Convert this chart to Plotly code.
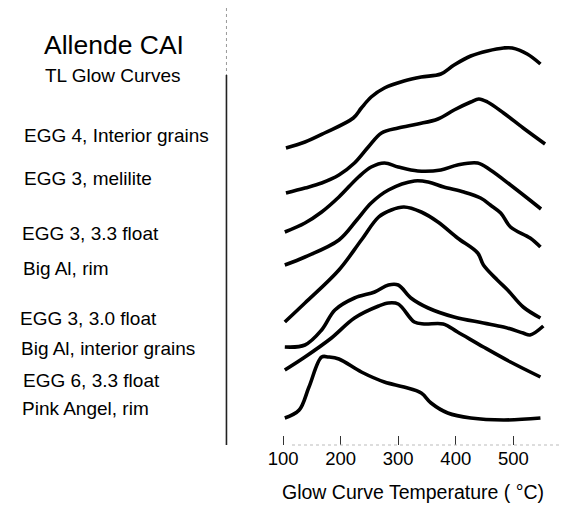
import plotly.graph_objects as go

# Temperatures (°C) and offset TL intensities (arbitrary units) for each glow curve
names = ["EGG 4, Interior grains", "EGG 3, melilite", "EGG 3, 3.3 float", "Big Al, rim",
         "EGG 3, 3.0 float", "Big Al, interior grains", "EGG 6, 3.3 float", "Pink Angel, rim"]

t1 = [105, 138, 172, 222, 236, 253, 276, 310, 340, 374, 397, 426, 455, 483, 498, 524, 547]
v1 = [297, 303, 312, 327, 337, 348, 357, 364, 368, 371, 380, 389, 394, 397, 397, 391, 381]

t2 = [105, 138, 167, 197, 224, 248, 271, 300, 334, 369, 397, 426, 440, 455, 483, 517, 555]
v2 = [252, 257, 262, 270, 282, 298, 312, 317, 321, 326, 335, 343, 346, 343, 332, 317, 301]

t3 = [103, 138, 167, 197, 231, 253, 276, 300, 334, 374, 403, 438, 460, 495, 524, 548]
v3 = [213, 222, 233, 248, 268, 278, 282, 278, 274, 275, 280, 282, 275, 260, 247, 236]

t4 = [103, 138, 197, 228, 253, 283, 328, 352, 379, 414, 443, 460, 478, 495, 529, 547]
v4 = [180, 188, 205, 225, 242, 255, 264, 263, 258, 253, 247, 240, 232, 218, 207, 198]

t5 = [103, 138, 197, 236, 266, 288, 310, 340, 369, 403, 438, 448, 472, 490, 517, 547]
v5 = [123, 142, 175, 205, 228, 235, 238, 233, 223, 207, 192, 180, 165, 155, 138, 127]

t6 = [103, 138, 167, 190, 224, 259, 283, 300, 322, 352, 397, 448, 483, 517, 529, 552]
v6 = [98, 100, 115, 135, 147, 153, 160, 160, 147, 137, 128, 122, 118, 112, 110, 119]

t7 = [103, 138, 184, 224, 266, 283, 300, 328, 345, 378, 403, 448, 495, 547]
v7 = [75, 88, 107, 127, 139, 142, 141, 123, 121, 121, 113, 98, 83, 68]

t8 = [103, 128, 145, 167, 179, 197, 236, 276, 310, 340, 357, 386, 426, 483, 547]
v8 = [27, 35, 58, 88, 88, 86, 73, 63, 58, 52, 42, 32, 27, 25, 27]

temps = [t1, t2, t3, t4, t5, t6, t7, t8]
vals = [v1, v2, v3, v4, v5, v6, v7, v8]

tick_vals = [100, 200, 300, 400, 500]
tick_text = ["100", "200", "300", "400", "500"]

# page body adds an 8px margin; figure is sized/placed to compensate
OFF = 8
W, H = 569 - OFF, 506 - OFF
FONT = "Liberation Sans, Arial, Helvetica, sans-serif"

fig = go.Figure()
for n, t, v in zip(names, temps, vals):
    fig.add_trace(go.Scatter(x=t, y=v, mode="lines", name=n,
                             line=dict(color="black", width=3.6, shape="spline", smoothing=1.0),
                             hoverinfo="x+y+name"))

def px(x):
    return (x - OFF) / W

def py(y):
    return 1 - (y - OFF) / H

label_pos = [(18, 135), (18, 178), (16, 233), (17, 268), (14, 318), (15, 348), (17, 380), (16, 408)]
ann = []
for n, (x, y) in zip(names, label_pos):
    ann.append(dict(text=n, x=px(x), y=py(y), xref="paper", yref="paper",
                    xanchor="left", yanchor="middle", showarrow=False,
                    font=dict(size=19, color="black", family=FONT)))
ann.append(dict(text="Allende CAI", x=px(111), y=py(45), xref="paper", yref="paper",
                xanchor="center", yanchor="middle", showarrow=False,
                font=dict(size=26.5, color="black", family=FONT)))
ann.append(dict(text="TL Glow Curves", x=px(110), y=py(75), xref="paper", yref="paper",
                xanchor="center", yanchor="middle", showarrow=False,
                font=dict(size=19, color="black", family=FONT)))
ann.append(dict(text="Glow Curve Temperature ( °C)", x=px(412), y=py(492), xref="paper", yref="paper",
                xanchor="center", yanchor="middle", showarrow=False,
                font=dict(size=19.5, color="black", family=FONT)))

shapes = [
    dict(type="line", xref="paper", yref="paper", x0=px(224), x1=px(224), y0=py(75), y1=py(445),
         line=dict(color="#222", width=1.6)),
    dict(type="line", xref="paper", yref="paper", x0=px(224), x1=px(224), y0=py(8), y1=py(75),
         line=dict(color="#999", width=1, dash="dot")),
    dict(type="line", xref="paper", yref="paper", x0=px(290), x1=px(569), y0=py(445), y1=py(445),
         line=dict(color="#bbb", width=1, dash="dot")),
]

fig.update_layout(
    width=W, height=H,
    margin=dict(l=0, r=0, t=0, b=0),
    paper_bgcolor="white", plot_bgcolor="white",
    showlegend=False,
    annotations=ann,
    shapes=shapes,
    xaxis=dict(domain=[px(270), 1], range=[81.0, 596.6], tickvals=tick_vals, ticktext=tick_text,
               ticks="inside", ticklen=9, tickwidth=1, tickcolor="#333",
               showline=False, showgrid=False, zeroline=False,
               tickfont=dict(size=18.5, color="black", family=FONT)),
    yaxis=dict(domain=[py(445), 1], range=[0, 445 - OFF], visible=False,
               showgrid=False, zeroline=False),
)

fig.write_html("out.html")
